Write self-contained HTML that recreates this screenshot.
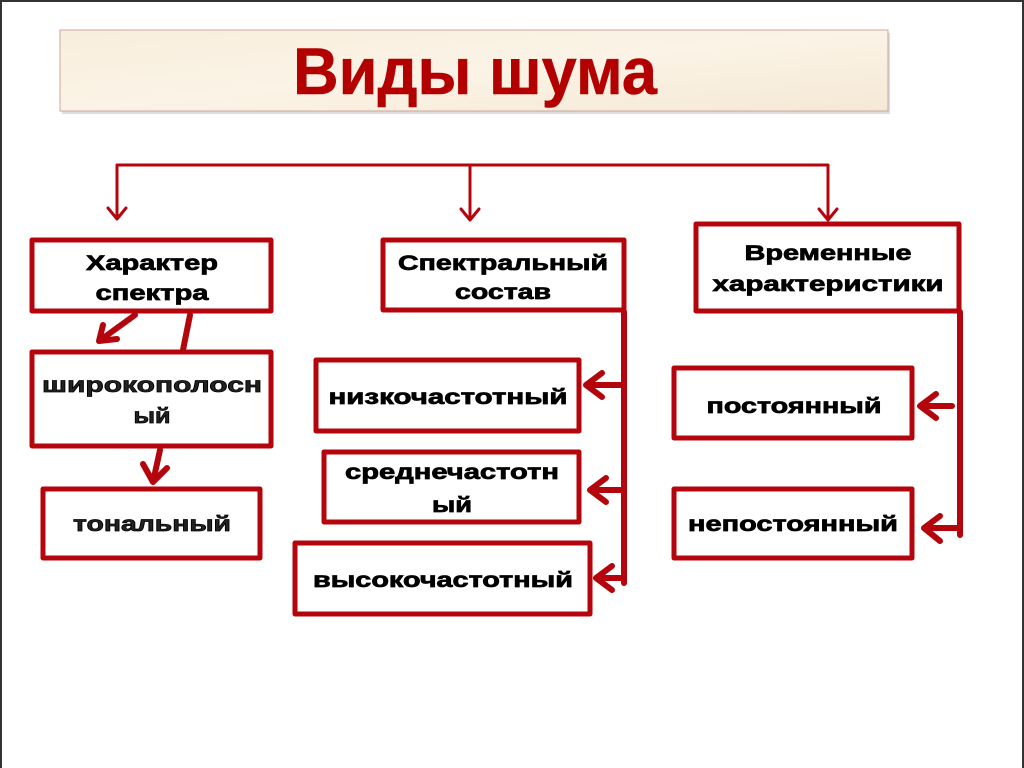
<!DOCTYPE html>
<html><head><meta charset="utf-8"><style>
html,body{margin:0;padding:0;background:#fff}
svg{display:block}
text{font-family:"Liberation Sans",Arial,sans-serif;font-weight:bold;fill:#000;stroke:#000;stroke-width:0.7;font-size:21px;text-anchor:middle}
</style></head><body>
<svg width="1024" height="768" viewBox="0 0 1024 768" xmlns="http://www.w3.org/2000/svg">
<defs>
<linearGradient id="bg" x1="0" y1="0" x2="1" y2="1">
<stop offset="0" stop-color="#f8eedd"/><stop offset="0.5" stop-color="#fbf3e6"/><stop offset="1" stop-color="#f5e9d5"/>
</linearGradient>
</defs>
<rect x="0" y="0" width="1024" height="768" fill="#fff"/>
<path d="M1 768 V1 H1023 V768" fill="none" stroke="#333" stroke-width="2"/>
<rect x="62" y="33" width="828" height="81" fill="#bbb" opacity="0.5"/>
<rect x="60" y="30" width="828" height="81" fill="url(#bg)" stroke="#c9a7a0" stroke-width="1"/>
<text x="475" y="94" style="font-size:66px;fill:#b30000;stroke:#b30000;stroke-width:0.5" textLength="364" lengthAdjust="spacingAndGlyphs">Виды шума</text>

<g fill="none" stroke="#b5050c" stroke-linecap="round" stroke-linejoin="round">
<path d="M117 217 V165 H828 V217 M470 165 V218" stroke-width="3"/>
<path d="M108 208 L117 219 L126 208 M461 209 L470 220 L479 209 M819 209 L828 220 L837 209" stroke-width="3"/>
<g stroke-width="5" fill="#fff">
<rect x="32" y="240" width="239" height="71"/>
<rect x="32" y="352" width="239" height="94"/>
<rect x="43" y="489" width="217" height="69"/>
<rect x="383" y="240" width="241" height="70"/>
<rect x="316" y="360" width="263" height="71"/>
<rect x="324" y="452" width="255" height="70"/>
<rect x="295" y="543" width="295" height="71"/>
<rect x="696" y="224" width="263" height="87"/>
<rect x="674" y="368" width="238" height="70"/>
<rect x="674" y="489" width="238" height="69"/>
</g>
<g stroke-width="6">
<path d="M135 315 L99 341 M99 341 L103 325 M99 341 L117 339"/>
<path d="M190 315 L183 350"/>
<path d="M160 450 L153 482 M153 482 L143 464 M153 482 L167 468"/>
<path d="M624 312 V583"/>
<path d="M624 385 H586 M586 385 L602 373 M586 385 L602 397"/>
<path d="M624 490 H590 M590 490 L606 478 M590 490 L606 502"/>
<path d="M624 578 H596 M596 578 L612 566 M596 578 L612 590"/>
<path d="M960 312 V535"/>
<path d="M952 406 H920 M920 406 L936 394 M920 406 L936 418"/>
<path d="M960 528 H924 M924 528 L940 516 M924 528 L940 541"/>
</g>
</g>

<text x="152" y="270" textLength="132" lengthAdjust="spacingAndGlyphs">Характер</text>
<text x="152" y="300" textLength="113" lengthAdjust="spacingAndGlyphs">спектра</text>
<text x="152" y="392" textLength="220" lengthAdjust="spacingAndGlyphs" style="fill:#222">широкополосн</text>
<text x="152" y="423" textLength="37" lengthAdjust="spacingAndGlyphs" style="fill:#222">ый</text>
<text x="152" y="531" textLength="158" lengthAdjust="spacingAndGlyphs" style="fill:#222">тональный</text>
<text x="503" y="270" textLength="210" lengthAdjust="spacingAndGlyphs">Спектральный</text>
<text x="503" y="299" textLength="96" lengthAdjust="spacingAndGlyphs">состав</text>
<text x="448" y="404" textLength="239" lengthAdjust="spacingAndGlyphs">низкочастотный</text>
<text x="452" y="479" textLength="214" lengthAdjust="spacingAndGlyphs">среднечастотн</text>
<text x="452" y="512" textLength="40" lengthAdjust="spacingAndGlyphs">ый</text>
<text x="443" y="587" textLength="260" lengthAdjust="spacingAndGlyphs">высокочастотный</text>
<text x="828" y="260" textLength="167" lengthAdjust="spacingAndGlyphs">Временные</text>
<text x="828" y="291" textLength="231" lengthAdjust="spacingAndGlyphs">характеристики</text>
<text x="794" y="413" textLength="175" lengthAdjust="spacingAndGlyphs">постоянный</text>
<text x="793" y="531" textLength="210" lengthAdjust="spacingAndGlyphs">непостоянный</text>
</svg>
</body></html>
